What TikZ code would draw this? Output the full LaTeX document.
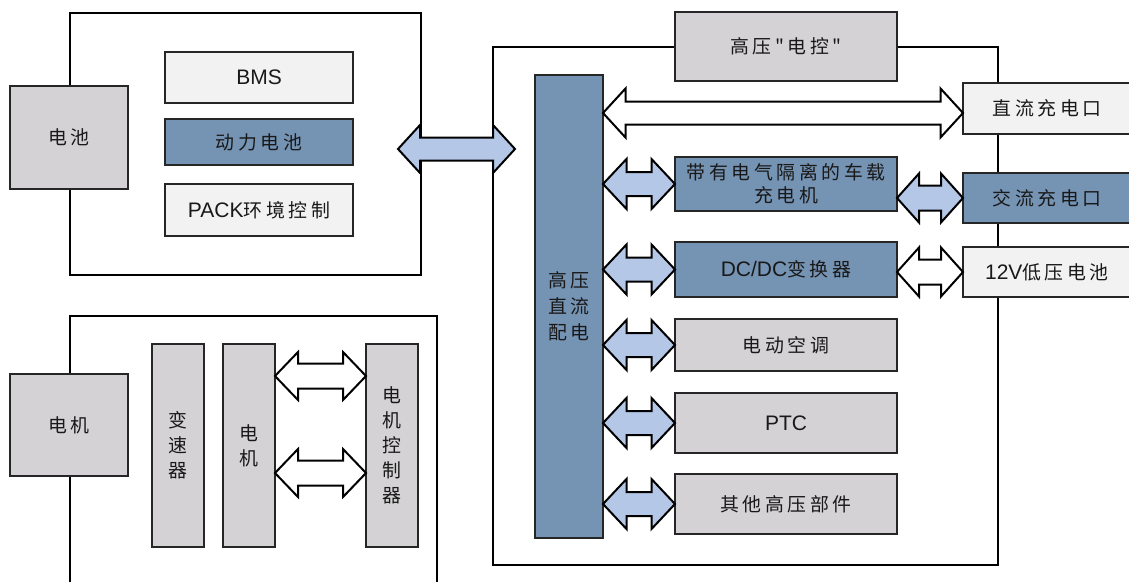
\documentclass[tikz,border=0pt]{standalone}
\usepackage{fontspec}
\setmainfont{Liberation Sans}
\newfontfamily\cjk[Scale=0.9]{Noto Sans CJK SC}
\usetikzlibrary{calc}

\definecolor{boxgray}{RGB}{212,210,212}
\definecolor{boxblue}{RGB}{117,147,179}
\definecolor{boxlight}{RGB}{242,242,242}
\definecolor{arrowblue}{RGB}{180,199,231}

% Chinese text with a fixed gap between the characters
\newlength\cjkgap
\setlength\cjkgap{3.6pt}
\def\zh#1{{\cjk\zhA#1\relax}}
\def\zhA#1{\ifx\relax#1\else#1\expandafter\zhB\fi}
\def\zhB#1{\ifx\relax#1\else\kern\cjkgap#1\expandafter\zhB\fi}

% Double-headed block arrow from tip #1 to tip #2 (same height):
% #3 half head width, #4 half shaft width, #5 head length, #6 style
\newcommand\dblarrow[6]{%
  \draw[#6] (#1) -- ($(#1)+(#5,-#3)$) -- ($(#1)+(#5,-#4)$)
    -- ($(#2)+(-#5,-#4)$) -- ($(#2)+(-#5,-#3)$) -- (#2)
    -- ($(#2)+(-#5,#3)$) -- ($(#2)+(-#5,#4)$)
    -- ($(#1)+(#5,#4)$) -- ($(#1)+(#5,#3)$) -- cycle;}

\tikzset{
  frame/.style={draw=black, line width=2pt, inner sep=0pt, outer sep=0pt},
  blk/.style={draw=black!85, line width=1.4pt, inner sep=0pt, outer sep=0pt,
    align=center, text=black!90, font=\fontsize{21}{25}\selectfont},
  grayblk/.style={blk, fill=boxgray},
  blueblk/.style={blk, fill=boxblue},
  lightblk/.style={blk, fill=boxlight},
  vtext/.style={font=\fontsize{21}{25}\selectfont\cjk},
  bluearrow/.style={draw=black, line width=2pt, line join=miter, fill=arrowblue},
  whitearrow/.style={draw=black, line width=2pt, line join=miter, fill=white},
}

\begin{document}
\begin{tikzpicture}[x=1pt, y=-1pt]
\useasboundingbox (0,0) rectangle (1129,581);
\fill[white] (0,0) rectangle (1129,581);
\clip (0,0) rectangle (1129,581);

% ---- enclosing frames ----
\node[frame, minimum width=351pt, minimum height=262pt] (batsys) at (245.5,144) {};
\node[frame, minimum width=505pt, minimum height=518pt] (hv) at (745.5,306) {};
\node[frame, minimum width=367pt, minimum height=284pt] (drive) at (253.5,458) {};

% ---- battery system ----
\node[grayblk, minimum width=118pt, minimum height=103pt] (bat) at (69,137.5) {\zh{电池}};
\node[lightblk, minimum width=188pt, minimum height=51pt] (bms) at (259,77.5) {BMS};
\node[blueblk, minimum width=188pt, minimum height=46pt] (cells) at (259,142) {\zh{动力电池}};
\node[lightblk, minimum width=188pt, minimum height=52pt] (packctl) at (259,210) {PACK\zh{环境控制}};

% ---- high-voltage electrics ----
\node[grayblk, minimum width=222pt, minimum height=69pt] (hvctl) at (786,46.5) {\zh{高压"电控"}};
\node[blueblk, vtext, font=\fontsize{21}{26}\selectfont, minimum width=68pt, minimum height=463pt] (bus) at (569,306.5)
  {\zh{高压}\\\zh{直流}\\\zh{配电}};
\node[lightblk, minimum width=168pt, minimum height=51pt] (dcport) at (1047,108.5) {\zh{直流充电口}};
\node[blueblk, font=\fontsize{21}{23}\selectfont, minimum width=222pt, minimum height=54pt] (obc) at (786,184)
  {\zh{带有电气隔离的车载}\\\zh{充电机}};
\node[blueblk, minimum width=168pt, minimum height=50pt] (acport) at (1047,198) {\zh{交流充电口}};
\node[blueblk, minimum width=222pt, minimum height=55pt] (dcdc) at (786,269.5) {DC/DC\zh{变换器}};
\node[lightblk, minimum width=168pt, minimum height=50pt] (lvbat) at (1047,272) {12V\zh{低压电池}};
\node[grayblk, minimum width=222pt, minimum height=52pt] (aircon) at (786,345) {\zh{电动空调}};
\node[grayblk, minimum width=222pt, minimum height=60pt] (ptc) at (786,423) {PTC};
\node[grayblk, minimum width=222pt, minimum height=60pt] (other) at (786,504) {\zh{其他高压部件}};

% ---- drive unit ----
\node[grayblk, minimum width=118pt, minimum height=102pt] (motor) at (69,425) {\zh{电机}};
\node[grayblk, vtext, minimum width=52pt, minimum height=203pt] (gearbox) at (178,445.5) {变\\速\\器};
\node[grayblk, vtext, minimum width=52pt, minimum height=203pt] (emotor) at (249,445.5) {电\\机};
\node[grayblk, vtext, minimum width=52pt, minimum height=203pt] (mcu) at (392,445.5) {电\\机\\控\\制\\器};

% ---- connectors ----
\coordinate (bigL) at ($(batsys.east)+(-23,5)$);
\coordinate (bigR) at ($(bigL -| hv.west)+(22,0)$);
\dblarrow{bigL}{bigR}{24}{11.5}{22}{bluearrow}

\coordinate (dcL) at ($(bus.east |- dcport.west)+(0,4.5)$);
\coordinate (dcR) at ($(dcport.west)+(0,4.5)$);
\dblarrow{dcL}{dcR}{24.5}{11.5}{22.5}{whitearrow}

\dblarrow{bus.east |- obc.west}{obc.west}{25}{12}{23.5}{bluearrow}
\dblarrow{obc.east |- acport.west}{acport.west}{24.5}{12.5}{22}{bluearrow}
\dblarrow{bus.east |- dcdc.west}{dcdc.west}{25}{12}{23.5}{bluearrow}
\dblarrow{dcdc.east |- lvbat.west}{lvbat.west}{24.5}{12.5}{22}{whitearrow}
\dblarrow{bus.east |- aircon.west}{aircon.west}{25}{12}{23.5}{bluearrow}
\dblarrow{bus.east |- ptc.west}{ptc.west}{25}{12}{23.5}{bluearrow}
\dblarrow{bus.east |- other.west}{other.west}{25}{12}{23.5}{bluearrow}

\coordinate (mA1) at ($(emotor.east)+(0,-69.5)$);
\coordinate (mB1) at ($(mcu.west)+(0,-69.5)$);
\coordinate (mA2) at ($(emotor.east)+(0,27.5)$);
\coordinate (mB2) at ($(mcu.west)+(0,27.5)$);
\dblarrow{mA1}{mB1}{24}{12.5}{23}{whitearrow}
\dblarrow{mA2}{mB2}{24}{12.5}{23}{whitearrow}
\end{tikzpicture}
\end{document}
